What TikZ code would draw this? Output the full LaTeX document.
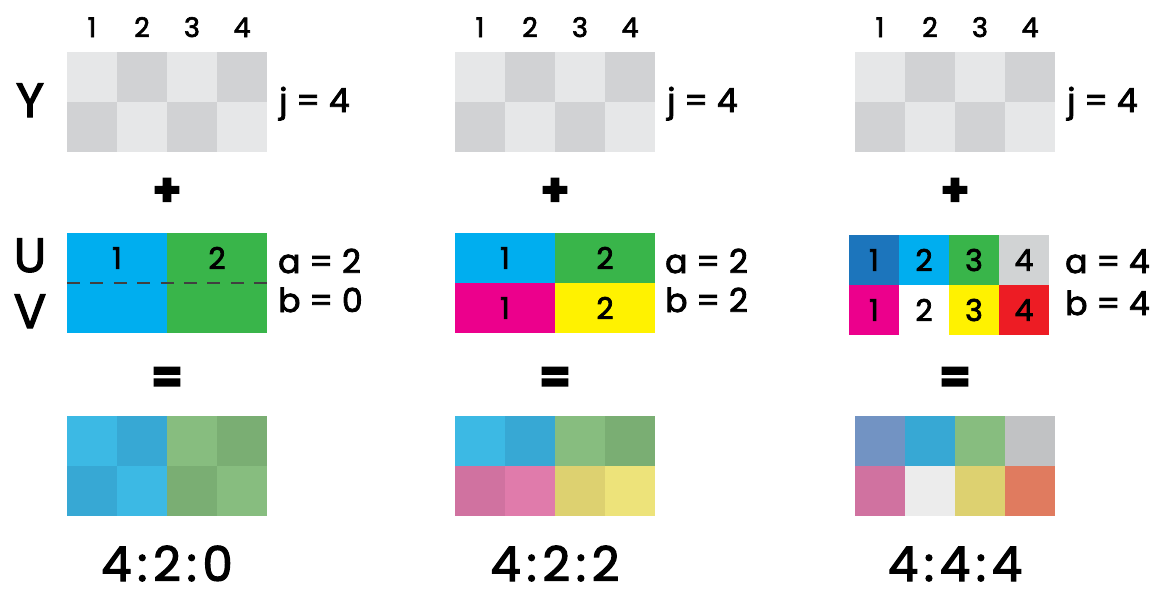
\documentclass[tikz,border=0pt]{standalone}
\usepackage{fontspec}
\setmainfont{Poppins}[FakeBold=2.5]
\usepackage{tikz}
\usetikzlibrary{positioning}

\definecolor{ylight}{HTML}{E6E7E8}
\definecolor{ydark}{HTML}{D1D2D4}
\definecolor{uvcyan}{HTML}{00AEEF}
\definecolor{uvgreen}{HTML}{39B54A}
\definecolor{uvmagenta}{HTML}{EC008C}
\definecolor{uvyellow}{HTML}{FFF200}
\definecolor{uvred}{HTML}{ED1C24}
\definecolor{uvblue}{HTML}{1C75BC}
\definecolor{uvgray}{HTML}{D1D3D4}
\definecolor{rcyan}{HTML}{3CB9E4}
\definecolor{rcyand}{HTML}{37A8D4}
\definecolor{rgreen}{HTML}{87BD7F}
\definecolor{rgreend}{HTML}{7AAE73}
\definecolor{rpink}{HTML}{D072A0}
\definecolor{rpinkl}{HTML}{E07BAB}
\definecolor{ryellow}{HTML}{DDD170}
\definecolor{ryellowl}{HTML}{EDE37A}
\definecolor{rblue}{HTML}{7293C3}
\definecolor{rgray}{HTML}{C1C2C4}
\definecolor{rwhite}{HTML}{ECECEC}
\definecolor{rred}{HTML}{E07B5F}

\begin{document}
\begin{tikzpicture}[x=1pt,y=-1pt]
	\tikzstyle{cell} = [rectangle, minimum width=50pt, minimum height=50pt, inner sep=0pt, outer sep=0pt, font=\fontsize{30}{30}\selectfont]
	\tikzstyle{wide} = [cell, minimum width=100pt]
	\tikzstyle{big} = [anchor=base, inner sep=0pt, text depth=0pt, font=\fontsize{48}{48}\selectfont]
	\tikzstyle{ratio} = [big, font=\fontsize{48}{48}\selectfont\addfontfeature{LetterSpace=12}]
	\tikzstyle{sign} = [inner sep=0pt, font=\fontsize{46}{46}\selectfont\bfseries]
	\tikzstyle{colnum} = [anchor=base, inner sep=0pt, font=\fontsize{27}{27}\selectfont]
	\tikzstyle{param} = [anchor=base west, inner sep=0pt, font=\fontsize{33}{33}\selectfont]

	\useasboundingbox (0,0) rectangle (1158,590);

	% luma rows, same in all three panels
	\foreach \p/\x in {l/67, m/455, r/855} {
		\foreach \c/\ta/\tb in {1/ylight/ydark, 2/ydark/ylight, 3/ylight/ydark, 4/ydark/ylight} {
			\node [cell, fill=\ta] (y\p\c a) at (\x+50*\c-25, 77) {};
			\node [cell, fill=\tb, below=0pt of y\p\c a] (y\p\c b) {};
			\node [colnum] (n\p\c) at (\x+50*\c-25, 37) {\c};
		}
		\node [param] (j\p) at (\x+212, 112) {j = 4};
		\node [sign] (plus\p) at (\x+100, 192) {+};
		\node [sign] (eq\p) at (\x+100, 380) {=};
	}

	\node [big] (Y) at (30, 117) {Y};
	\node [big] (U) at (30, 272) {U};
	\node [big] (V) at (30, 328) {V};

	% 4:2:0
	\node [wide, fill=uvcyan] (uvl1a) at (117, 258) {1};
	\node [wide, fill=uvgreen] (uvl2a) at (217, 258) {2};
	\node [wide, fill=uvcyan, below=0pt of uvl1a] (uvl1b) {};
	\node [wide, fill=uvgreen, below=0pt of uvl2a] (uvl2b) {};
	\draw [dash pattern=on 13pt off 10.4pt, line width=1.2pt, black!75] (uvl1a.south west) -- (uvl2a.south east);
	\node [param] (al) at (278, 273) {a = 2};
	\node [param] (bl) at (278, 312) {b = 0};

	% 4:2:2
	\node [wide, fill=uvcyan] (uvm1a) at (505, 258) {1};
	\node [wide, fill=uvgreen] (uvm2a) at (605, 258) {2};
	\node [wide, fill=uvmagenta, below=0pt of uvm1a] (uvm1b) {1};
	\node [wide, fill=uvyellow, below=0pt of uvm2a] (uvm2b) {2};
	\node [param] (am) at (665, 273) {a = 2};
	\node [param] (bm) at (665, 312) {b = 2};

	% 4:4:4
	\foreach \c/\ta/\tb in {1/uvblue/uvmagenta, 2/uvcyan/white, 3/uvgreen/uvyellow, 4/uvgray/uvred} {
		\node [cell, fill=\ta] (uvr\c a) at (849+50*\c-25, 260) {\c};
		\node [cell, fill=\tb, below=0pt of uvr\c a] (uvr\c b) {\c};
	}
	\node [param] (ar) at (1065, 273) {a = 4};
	\node [param] (br) at (1065, 315) {b = 4};

	% resulting pixels
	\foreach \c/\ta/\tb in {1/rcyan/rcyand, 2/rcyand/rcyan, 3/rgreen/rgreend, 4/rgreend/rgreen} {
		\node [cell, fill=\ta] (rl\c a) at (67+50*\c-25, 441) {};
		\node [cell, fill=\tb, below=0pt of rl\c a] (rl\c b) {};
	}
	\foreach \c/\ta/\tb in {1/rcyan/rpink, 2/rcyand/rpinkl, 3/rgreen/ryellow, 4/rgreend/ryellowl} {
		\node [cell, fill=\ta] (rm\c a) at (455+50*\c-25, 441) {};
		\node [cell, fill=\tb, below=0pt of rm\c a] (rm\c b) {};
	}
	\foreach \c/\ta/\tb in {1/rblue/rpink, 2/rcyand/rwhite, 3/rgreen/ryellow, 4/rgray/rred} {
		\node [cell, fill=\ta] (rr\c a) at (855+50*\c-25, 441) {};
		\node [cell, fill=\tb, below=0pt of rr\c a] (rr\c b) {};
	}

	\node [ratio] (s420) at (167, 581) {4:2:0};
	\node [ratio] (s422) at (555, 581) {4:2:2};
	\node [ratio] (s444) at (955, 581) {4:4:4};
\end{tikzpicture}
\end{document}
